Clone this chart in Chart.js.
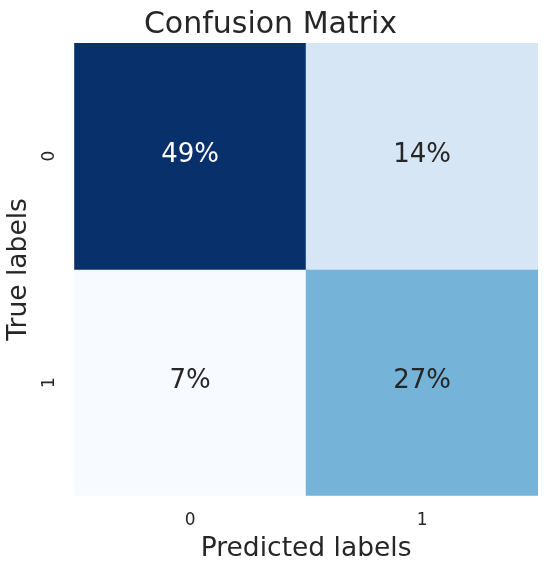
<!DOCTYPE html>
<html>
<head>
<meta charset="utf-8">
<script src="https://cdn.jsdelivr.net/npm/chart.js@4"></script>
<style>
  html, body { margin: 0; padding: 0; background: #ffffff; }
  #wrap { width: 550px; height: 569px; }
</style>
</head>
<body>
<div id="wrap"><canvas id="cm"></canvas></div>
<script>
// confusion matrix values (percent), rows = true label, cols = predicted label
const predictedLabels = ['0', '1'];
const trueLabels = ['0', '1'];
const row0 = [49, 14];
const row1 = [7, 27];
const rows = [row0, row1];

// Blues colormap anchors
const blues = ['#f7fbff', '#deebf7', '#c6dbef', '#9ecae1', '#6baed6', '#4292c6', '#2171b5', '#08519c', '#08306b'];
function hexToRgb(h) {
    return [parseInt(h.substr(1, 2), 16), parseInt(h.substr(3, 2), 16), parseInt(h.substr(5, 2), 16)];
}
function bluesColor(t) {
    t = Math.max(0, Math.min(1, t));
    const pos = t * (blues.length - 1);
    const i = Math.min(Math.floor(pos), blues.length - 2);
    const f = pos - i;
    const a = hexToRgb(blues[i]), b = hexToRgb(blues[i + 1]);
    const c = a.map((v, k) => Math.round(v + (b[k] - v) * f));
    return 'rgb(' + c.join(',') + ')';
}
const allVals = rows.flat();
const vMin = Math.min(...allVals);
const vMax = Math.max(...allVals);
const norm = v => (v - vMin) / (vMax - vMin);

const FONT = "'DejaVu Sans', sans-serif";
const TEXT = '#262626';

// one floating-bar dataset per true-label row, spanning [row, row+1] on y
const datasets = rows.map((vals, r) => ({
    label: trueLabels[r],
    data: vals.map(() => [r, r + 1]),
    values: vals,
    backgroundColor: vals.map(v => bluesColor(norm(v))),
    borderWidth: 0,
    grouped: false,
    barPercentage: 1,
    categoryPercentage: 1
}));

const annotate = {
    id: 'annotate',
    afterDatasetsDraw(chart) {
        const c = chart.ctx;
        c.save();
        c.font = '26px ' + FONT;
        c.textAlign = 'center';
        c.textBaseline = 'middle';
        chart.data.datasets.forEach((ds, di) => {
            chart.getDatasetMeta(di).data.forEach((el, i) => {
                const v = ds.values[i];
                const p = el.getCenterPoint();
                c.fillStyle = norm(v) > 0.5 ? '#ffffff' : TEXT;
                c.fillText(v + '%', p.x, p.y - 1);
            });
        });
        c.restore();
    }
};

new Chart(document.getElementById('cm'), {
    type: 'bar',
    data: { labels: predictedLabels, datasets: datasets },
    options: {
        responsive: true,
        maintainAspectRatio: false,
        animation: false,
        layout: { padding: { left: 3, right: 12, top: 0, bottom: 4 } },
        plugins: {
            legend: { display: false },
            tooltip: { enabled: false },
            title: {
                display: true,
                text: 'Confusion Matrix',
                color: TEXT,
                font: { family: FONT, size: 30, weight: 'normal' },
                padding: { top: 7, bottom: 0 }
            }
        },
        scales: {
            x: {
                grid: { display: false, drawTicks: false },
                border: { display: false },
                ticks: { color: TEXT, font: { family: FONT, size: 17 }, padding: 15 },
                title: {
                    display: true,
                    text: 'Predicted labels',
                    color: TEXT,
                    font: { family: FONT, size: 26.5 },
                    padding: { top: -13, bottom: 0 }
                }
            },
            y: {
                min: 0,
                max: trueLabels.length,
                reverse: true,
                grid: { display: false, drawTicks: false },
                border: { display: false },
                afterBuildTicks: scale => {
                    scale.ticks = trueLabels.map((l, i) => ({ value: i + 0.5 }));
                },
                ticks: {
                    color: TEXT,
                    font: { family: FONT, size: 17 },
                    minRotation: 90,
                    maxRotation: 90,
                    crossAlign: 'center',
                    padding: 19.5,
                    callback: v => trueLabels[Math.floor(v)]
                },
                title: {
                    display: true,
                    text: 'True labels',
                    color: TEXT,
                    font: { family: FONT, size: 26.5 },
                    padding: { top: 0, bottom: -20 }
                }
            }
        }
    },
    plugins: [annotate]
});
</script>
</body>
</html>
